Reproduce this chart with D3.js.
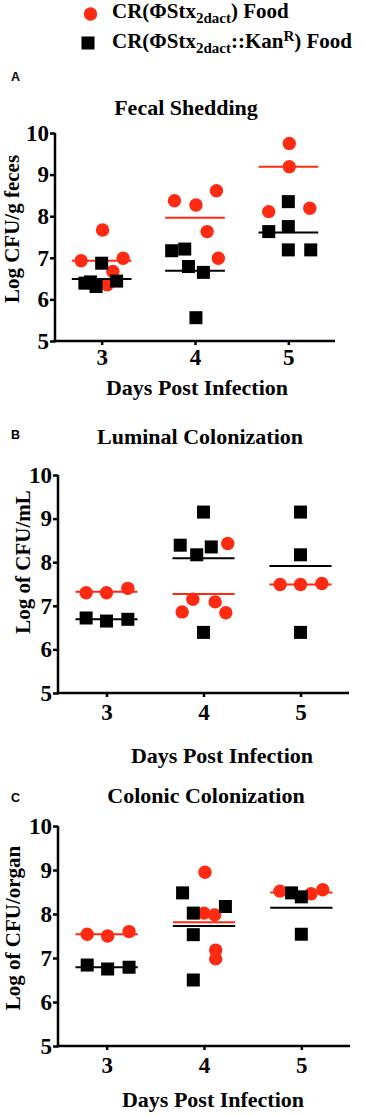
<!DOCTYPE html>
<html>
<head>
<meta charset="utf-8">
<script src="https://cdn.jsdelivr.net/npm/d3@7"></script>
<style>
  body { margin: 0; background: #fff; }
  svg { display: block; }
</style>
</head>
<body>
<div id="chart"></div>
<script>
// values (x is days, jittered as in the original dot plot)
const days = [3, 4, 5];
const yTicks = [5, 6, 7, 8, 9, 10];

// A - fecal shedding
const fecalRed = [
	[2.78, 6.93], [3.01, 7.67], [3.23, 6.99], [3.12, 6.67], [3.06, 6.35],
	[3.78, 8.37], [4.01, 8.27], [4.23, 8.61], [4.13, 7.63], [4.25, 6.99],
	[5.01, 9.75], [5.01, 9.19], [4.79, 8.11], [5.23, 8.19],
];
const fecalBlack = [
	[2.82, 6.39], [2.94, 6.31], [3.0, 6.87], [3.16, 6.44], [2.88, 6.42],
	[3.75, 7.17], [3.89, 7.21], [3.93, 6.79], [4.09, 6.65], [4.01, 5.56],
	[4.79, 7.63], [5.0, 8.35], [5.0, 7.75], [5.0, 7.19], [5.24, 7.19],
];
const fecalRedMean = [6.93, 7.96, 9.19];
const fecalBlackMean = [6.49, 6.69, 7.61];

// B - luminal colonization
const luminalRed = [
	[2.79, 7.3], [3.0, 7.3], [3.22, 7.4],
	[4.25, 8.43], [3.89, 7.15], [3.78, 6.86], [4.12, 7.09], [4.23, 6.84],
	[4.79, 7.49], [5.0, 7.49], [5.22, 7.51],
];
const luminalBlack = [
	[2.79, 6.72], [3.0, 6.65], [3.22, 6.69],
	[4.0, 9.15], [3.76, 8.39], [3.93, 8.17], [4.08, 8.35], [4.0, 6.39],
	[5.0, 9.15], [5.0, 8.17], [5.0, 6.39],
];
const luminalRedMean = [7.32, 7.27, 7.49];
const luminalBlackMean = [6.69, 8.09, 7.91];

// C - colonic colonization
const colonicRed = [
	[2.8, 7.54], [3.01, 7.5], [3.23, 7.6],
	[4.01, 8.95], [4.0, 8.02], [4.11, 7.98], [4.12, 7.18], [4.12, 6.98],
	[4.78, 8.52], [5.1, 8.46], [5.22, 8.55],
];
const colonicBlack = [
	[2.8, 6.84], [3.01, 6.75], [3.23, 6.79],
	[3.78, 8.48], [3.89, 8.02], [3.89, 7.53], [4.22, 8.17], [3.89, 6.5],
	[4.9, 8.48], [5.0, 8.39], [5.0, 7.54],
];
const colonicRedMean = [7.54, 7.81, 8.49];
const colonicBlackMean = [6.79, 7.73, 8.14];

const RED = "#ff2a12";
const BLACK = "#000";
const serif = "'Liberation Serif', 'Times New Roman', serif";

const width = 365;
const height = 1116;

const container = d3.select("#chart");
container.selectAll("*").remove();

const svg = container.append("svg").attr("width", width).attr("height", height);

// legend
const legend = svg.append("g").style("font-family", serif).style("font-weight", "700");
legend.append("circle").attr("cx", 90.5).attr("cy", 14).attr("r", 6.7).attr("fill", RED);
legend.append("rect").attr("x", 81.5).attr("y", 36.5).attr("width", 13).attr("height", 13).attr("fill", BLACK);

function legendText(y, withKan) {
	const t = legend.append("text").attr("x", 112).attr("y", y).style("font-size", "21px");
	t.append("tspan").text("CR(ΦStx");
	t.append("tspan").attr("dy", 5).style("font-size", "15px").text("2dact");
	if (withKan) {
		t.append("tspan").attr("dy", -5).text("::Kan");
		t.append("tspan").attr("dy", -7).style("font-size", "15px").text("R");
		t.append("tspan").attr("dy", 7).text(") Food");
	} else {
		t.append("tspan").attr("dy", -5).text(") Food");
	}
}
legendText(18, false);
legendText(48, true);

// one dot plot panel
function drawPanel(cfg) {
	const g = svg.append("g").style("font-family", serif);

	const x = d3.scaleLinear().domain([2.5, 5.5]).range(cfg.xRange);
	const y = d3.scaleLinear().domain([5, 10]).range(cfg.yRange);

	// panel letter
	svg.append("text")
		.attr("x", 11)
		.attr("y", cfg.letterY)
		.style("font-family", "'Liberation Sans', Arial, sans-serif")
		.style("font-weight", "700")
		.style("font-size", "12.5px")
		.text(cfg.letter);

	// title
	g.append("text")
		.attr("x", cfg.titleX)
		.attr("y", cfg.titleY)
		.attr("text-anchor", "middle")
		.style("font-weight", "700")
		.style("font-size", "22px")
		.text(cfg.title);

	// axes
	const xAxis = d3.axisBottom(x).tickValues(days).tickFormat(d3.format("d"))
		.tickSize(4).tickPadding(cfg.xPad).tickSizeOuter(0);
	const yAxis = d3.axisLeft(y).tickValues(yTicks).tickFormat(d3.format("d"))
		.tickSize(5).tickPadding(1).tickSizeOuter(0);

	const xg = g.append("g").attr("transform", `translate(0,${cfg.yRange[0]})`).call(xAxis);
	const yg = g.append("g").attr("transform", `translate(${cfg.xRange[0]},0)`).call(yAxis);

	[xg, yg].forEach(a => {
		a.select(".domain").attr("stroke", "#000").attr("stroke-width", 2.5);
		a.selectAll(".tick line").attr("stroke", "#000").attr("stroke-width", 2.5);
		a.selectAll(".tick text")
			.attr("fill", "#000")
			.style("font-family", serif)
			.style("font-weight", "700")
			.style("font-size", "23px");
	});
	// extend the y domain line so it meets the x axis corner
	yg.select(".domain").attr("d", `M0,${cfg.yRange[1]}V${cfg.yRange[0] + 1.25}`);
	xg.select(".domain").attr("d", `M${cfg.xRange[0] - 1.25},0H${cfg.xRange[1]}`);

	// axis titles
	g.append("text")
		.attr("x", cfg.xTitleX)
		.attr("y", cfg.xTitleY)
		.attr("text-anchor", "middle")
		.style("font-weight", "700")
		.style("font-size", "22px")
		.text("Days Post Infection");

	g.append("text")
		.attr("transform", `translate(${cfg.yTitleX},${cfg.yTitleY}) rotate(-90)`)
		.attr("text-anchor", "middle")
		.style("font-weight", "700")
		.style("font-size", "21px")
		.text(cfg.yTitle);

	// red circles + mean
	g.append("g")
		.selectAll("circle")
		.data(cfg.red)
		.join("circle")
		.attr("cx", d => x(d[0]))
		.attr("cy", d => y(d[1]))
		.attr("r", 6.7)
		.attr("fill", RED);

	g.append("g")
		.selectAll("line")
		.data(cfg.redMean)
		.join("line")
		.attr("x1", (d, i) => x(days[i] - 0.32))
		.attr("x2", (d, i) => x(days[i] + 0.32))
		.attr("y1", d => y(d))
		.attr("y2", d => y(d))
		.attr("stroke", RED)
		.attr("stroke-width", 2);

	// black squares + mean
	const s = 13;
	g.append("g")
		.selectAll("rect")
		.data(cfg.black)
		.join("rect")
		.attr("x", d => x(d[0]) - s / 2)
		.attr("y", d => y(d[1]) - s / 2)
		.attr("width", s)
		.attr("height", s)
		.attr("fill", BLACK);

	g.append("g")
		.selectAll("line")
		.data(cfg.blackMean)
		.join("line")
		.attr("x1", (d, i) => x(days[i] - 0.32))
		.attr("x2", (d, i) => x(days[i] + 0.32))
		.attr("y1", d => y(d))
		.attr("y2", d => y(d))
		.attr("stroke", BLACK)
		.attr("stroke-width", 2);
}

drawPanel({
	letter: "A", letterY: 81,
	title: "Fecal Shedding", titleX: 186, titleY: 115,
	xRange: [55, 335], yRange: [341, 133], xPad: 4,
	xTitleX: 197, xTitleY: 395,
	yTitle: "Log CFU/g feces", yTitleX: 19, yTitleY: 229,
	red: fecalRed, black: fecalBlack, redMean: fecalRedMean, blackMean: fecalBlackMean,
});

drawPanel({
	letter: "B", letterY: 439,
	title: "Luminal Colonization", titleX: 200, titleY: 444,
	xRange: [58, 349], yRange: [693, 475], xPad: 7,
	xTitleX: 222, xTitleY: 763,
	yTitle: "Log of CFU/mL", yTitleX: 30, yTitleY: 562,
	red: luminalRed, black: luminalBlack, redMean: luminalRedMean, blackMean: luminalBlackMean,
});

drawPanel({
	letter: "C", letterY: 802,
	title: "Colonic Colonization", titleX: 206, titleY: 803,
	xRange: [58, 350], yRange: [1046, 826], xPad: 7,
	xTitleX: 213, xTitleY: 1107,
	yTitle: "Log of CFU/organ", yTitleX: 20, yTitleY: 928,
	red: colonicRed, black: colonicBlack, redMean: colonicRedMean, blackMean: colonicBlackMean,
});
</script>
</body>
</html>
